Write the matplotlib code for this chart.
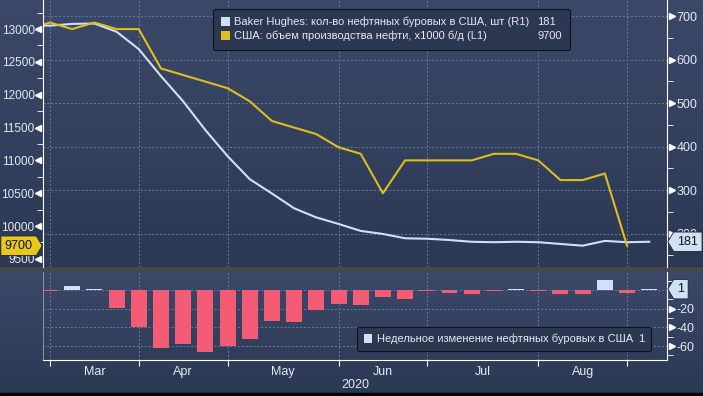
import numpy as np
import matplotlib.pyplot as plt
from matplotlib.path import Path
from matplotlib.patches import Patch, Rectangle
from matplotlib.colors import LinearSegmentedColormap
from matplotlib.transforms import blended_transform_factory as blend
from matplotlib.ticker import MultipleLocator

# weekly points, index 0 = first week on the chart (index -1 is clipped at the left edge)
weeks = np.arange(-1, 28)
rig_count = [679, 678, 682, 683, 664, 624, 562, 504, 438, 378, 325, 292, 258, 237, 222,
             206, 199, 189, 188, 185, 181, 180, 181, 180, 176, 172, 183, 180, 181]
oil_output = [13000, 13100, 13000, 13100, 13000, 13000, 12400, 12300, 12200, 12100, 11900,
              11600, 11500, 11400, 11200, 11100, 10500, 11000, 11000, 11000, 11000, 11100,
              11100, 11000, 10700, 10700, 10800, 9700]
rig_change = [-1, 4, 1, -19, -40, -62, -58, -66, -60, -53, -33, -34, -21, -15, -16, -7,
              -10, -1, -3, -4, -1, 1, -1, -4, -4, 11, -3, 1]
month_starts = [0, 4, 8, 13, 17, 22, 26]
month_names = ['Mar', 'Apr', 'May', 'Jun', 'Jul', 'Aug']
rig_label = 'Baker Hughes: кол-во нефтяных буровых в США, шт (R1)'
oil_label = 'США: объем производства нефти, x1000 б/д (L1)'
change_label = 'Недельное изменение нефтяных буровых в США'

BG_TOP, BG_BOT = '#3b4868', '#2c3955'
YELLOW = '#dcbf1c'
RIG = '#cfe1f6'
RED = '#f45c76'
GRID = '#687a9a'
TXT = '#e4e9f2'

plt.rcParams['font.family'] = ['Liberation Sans', 'DejaVu Sans']

W, H = 703, 396
fig = plt.figure(figsize=(W / 100, H / 100), dpi=100)
fig.patch.set_facecolor('#45484f')
cmap = LinearSegmentedColormap.from_list('bg', [BG_TOP, BG_BOT])


def px_rect(x0, y0, x1, y1):
    return [x0 / W, 1 - y1 / H, (x1 - x0) / W, (y1 - y0) / H]


def gradient(rect):
    bg = fig.add_axes(rect, zorder=0)
    bg.imshow(np.linspace(0, 1, 64).reshape(-1, 1), aspect='auto', cmap=cmap,
              extent=[0, 1, 0, 1])
    bg.axis('off')


gradient(px_rect(0, 0, W, 267))
gradient(px_rect(0, 272, W, 393))
fig.patches.append(Rectangle((0, 0), 1, 3 / H, transform=fig.transFigure,
                             color='black', zorder=5))


def tag_right(x0, y0, width, height, mutation_size):
    pad = 0.3 * mutation_size
    x0, y0, w, h = x0 - pad, y0 - pad, width + 2 * pad, height + 2 * pad
    tip = h * 0.3
    return Path([(x0, y0), (x0 + w, y0), (x0 + w + tip, y0 + h / 2), (x0 + w, y0 + h),
                 (x0, y0 + h), (x0, y0)], closed=True)


def tag_left(x0, y0, width, height, mutation_size):
    pad = 0.3 * mutation_size
    x0, y0, w, h = x0 - pad, y0 - pad, width + 2 * pad, height + 2 * pad
    tip = h * 0.3
    return Path([(x0, y0), (x0 + w, y0), (x0 + w, y0 + h), (x0, y0 + h),
                 (x0 - tip, y0 + h / 2), (x0, y0)], closed=True)


def tag(axis, ytrans, side, y, text, fc):
    if side == 'left':
        x, off, ha, style = 0, -7.5, 'right', tag_right
    else:
        x, off, ha, style = 1, 7.5, 'left', tag_left
    axis.annotate(text, xy=(x, y), xycoords=blend(axis.transAxes, ytrans),
                  xytext=(off, 0), textcoords='offset points', ha=ha, va='center',
                  fontsize=9, color='#111111', annotation_clip=False, zorder=10,
                  bbox=dict(boxstyle=style, fc=fc, ec='#222222', lw=0.6))


def triangles(axis, ticks, side):
    x, m = (-0.008, '<') if side == 'left' else (1.008, '>')
    axis.plot([x] * len(ticks), ticks, ls='none', marker=m, ms=5, color='white',
              transform=blend(axis.transAxes, axis.transData), clip_on=False)


xlim = (-0.315, 27.8)
TICK_FS = 9

# ---- top panel ----
ax = fig.add_axes(px_rect(43, 0, 667, 267))
ax.set_zorder(1)
ax.patch.set_visible(False)
ax2 = ax.twinx()
ax2.set_zorder(2)
ax2.patch.set_visible(False)

ax.plot(weeks, rig_count, color=RIG, lw=1.5)
ax2.plot(weeks[:len(oil_output)], oil_output, color=YELLOW, lw=1.5)

ax.set_xlim(*xlim)
ax.set_ylim(123, 737)
ax2.set_ylim(9376, 13443)
ax.set_xticks(month_starts)
ax.tick_params(axis='x', length=0, labelbottom=False)

ax.yaxis.tick_right()
ax.yaxis.set_major_locator(MultipleLocator(100))
ax.yaxis.set_minor_locator(MultipleLocator(50))
ax.tick_params(axis='y', which='major', length=0, pad=7, labelsize=TICK_FS, labelcolor=TXT)
ax.tick_params(axis='y', which='minor', length=4, color='white', direction='out')
ax.grid(True, color=GRID, ls=(0, (2, 2)), lw=0.7)

ax2.yaxis.tick_left()
ax2.set_yticks(np.arange(9500, 13001, 500))
ax2.yaxis.set_minor_locator(MultipleLocator(250))
ax2.tick_params(axis='y', which='major', length=0, pad=6, labelsize=8.5, labelcolor=TXT)
ax2.tick_params(axis='y', which='minor', length=4, color='white', direction='out')

for s in ['top', 'bottom', 'left']:
    ax.spines[s].set_visible(False)
for s in ['top', 'bottom', 'right']:
    ax2.spines[s].set_visible(False)
ax.spines['right'].set_color('white')
ax2.spines['left'].set_color('white')

triangles(ax, np.arange(200, 701, 100), 'right')
triangles(ax2, np.arange(9500, 13001, 500), 'left')

tag(ax2, ax2.transData, 'left', oil_output[-1], f'{oil_output[-1]}', '#e8c81c')
tag(ax2, ax.transData, 'right', rig_count[-1], f'{rig_count[-1]}', RIG)

blank = Patch(fc='none', ec='none')
leg = ax2.legend([Patch(fc=RIG), Patch(fc=YELLOW), blank, blank],
                 [rig_label, oil_label, f'{rig_count[-1]}', f'{oil_output[-1]}'],
                 ncol=2, loc='upper left', bbox_to_anchor=(0.272, 0.968), borderaxespad=0,
                 fontsize=8, labelcolor=TXT, handlelength=0.8, handleheight=0.8,
                 handletextpad=0.4, columnspacing=-0.5, labelspacing=0.3, borderpad=0.75,
                 fancybox=True, framealpha=1, facecolor='#2c3852', edgecolor='#0e131d')
leg.get_frame().set_linewidth(0.8)

# ---- bottom panel ----
bax = fig.add_axes(px_rect(43, 272, 667, 360))
bax.set_zorder(1)
bax.patch.set_visible(False)
bax.bar(weeks[1:], rig_change, width=0.72,
        color=[RED if v < 0 else RIG for v in rig_change], zorder=3)
bax.set_xlim(*xlim)
bax.set_ylim(-75, 19.4)

bax.yaxis.tick_right()
bax.set_yticks([-60, -40, -20, 0], ['-60', '-40', '-20', ''])
bax.yaxis.set_minor_locator(MultipleLocator(10))
bax.tick_params(axis='y', which='major', length=0, pad=7, labelsize=TICK_FS, labelcolor=TXT)
bax.tick_params(axis='y', which='minor', length=4, color='white', direction='out')
triangles(bax, [-60, -40, -20], 'right')

bax.set_xticks(month_starts)
bax.set_xticklabels([])
mids = [(a + b) / 2 for a, b in zip(month_starts[:-1], month_starts[1:])]
bax.set_xticks(mids, month_names, minor=True)
bax.tick_params(axis='x', which='major', length=4, color='white', direction='out')
bax.tick_params(axis='x', which='minor', length=0, pad=4, labelsize=TICK_FS, labelcolor=TXT)
bax.grid(True, which='major', color=GRID, ls=(0, (2, 2)), lw=0.7)

bax.spines['top'].set_visible(False)
bax.spines['left'].set_color('#7f8ca3')
bax.spines['left'].set_linewidth(0.8)
bax.spines['right'].set_color('white')
bax.spines['bottom'].set_color('white')

tag(bax, bax.transData, 'right', rig_change[-1], f'{rig_change[-1]}', RIG)

leg2 = bax.legend([Patch(fc=RIG), blank], [change_label, f'{rig_change[-1]}'],
                  ncol=2, loc='upper left', bbox_to_anchor=(0.503, 0.375), borderaxespad=0,
                  fontsize=8, labelcolor=TXT, handlelength=0.8, handleheight=0.8,
                  handletextpad=0.4, columnspacing=-0.7, borderpad=0.6,
                  fancybox=True, framealpha=1, facecolor='#2c3852', edgecolor='#0e131d')
leg2.get_frame().set_linewidth(0.8)

fig.text(355 / W, 1 - 385 / H, '2020', ha='center', va='center', fontsize=TICK_FS, color=TXT)

fig.savefig('out.png', dpi=100, facecolor=fig.get_facecolor())
